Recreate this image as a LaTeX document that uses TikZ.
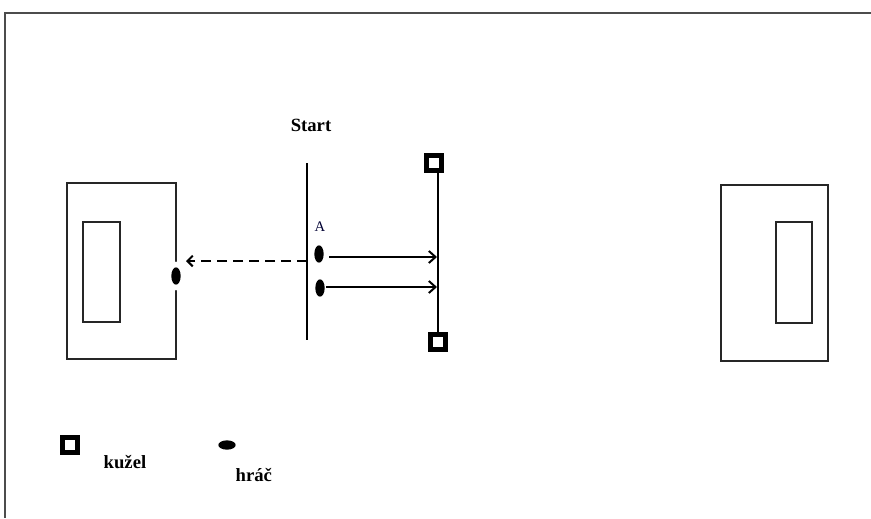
\documentclass[tikz,border=0pt]{standalone}
\usepackage{fontspec}
\setmainfont{Liberation Serif}
\usetikzlibrary{shapes.geometric,arrows.meta}
\begin{document}
\begin{tikzpicture}[x=0.75pt,y=-0.75pt]
        \tikzset{frame/.style = {draw=black!70,line width=0.8pt}}
        \tikzset{goal/.style = {draw=black!85,line width=0.8pt}}
        \tikzset{player/.style = {ellipse,fill=black,inner sep=0,minimum width=7pt,minimum height=13pt}}
        \tikzset{cone/.style = {draw,line width=4pt,fill=white,inner sep=0,minimum size=11pt}}
        \tikzset{pass/.style = {line width=1.5pt,-{Straight Barb[length=5pt,width=9pt]}}}
        \tikzset{label/.style = {font=\bfseries\fontsize{14}{16}\selectfont}}

        \useasboundingbox (0,0) rectangle (871,518);
        \draw[frame] (871,13) -- (5,13) -- (5,518);

        \draw[goal] (67,183) rectangle (176,359);
        \draw[goal] (83,222) rectangle (120,322);
        \draw[goal] (721,185) rectangle (828,361);
        \draw[goal] (776,222) rectangle (812,323);

        \coordinate (st1) at (307,163);
        \coordinate (st2) at (307,340);
        \draw[line width=1pt] (st1) -- (st2);

        \node[label] (start) at (311,125) {Start};
        \node[font=\fontsize{11}{13}\selectfont,text=black!80!blue] (a) at (320,227) {A};

        \node[player] (pA) at (319,254) {};
        \node[player] (pB) at (320,288) {};
        \node[player,preaction={draw=white,line width=8pt}] (pC) at (176,276) {};

        \node[cone] (c1) at (434,163) {};
        \node[cone] (c2) at (438,342) {};
        \draw[line width=2.2pt] (c1.south -| c2.north) -- (c2.north);

        \coordinate (hA) at (437,257);
        \coordinate (hB) at (437,287);
        \coordinate (back) at (186,261);
        \draw[pass,shorten <=4pt] (pA.east |- hA) -- (hA);
        \draw[pass,shorten <=1pt] (pB.east |- hB) -- (hB);
        \draw[pass,dash pattern=on 7.5pt off 4.5pt,-{Straight Barb[length=4pt,width=8pt]}] (back -| st1) -- (back);

        \node[cone] (lc) at (70,445) {};
        \node[label,anchor=west] (kuzel) at (99,462) {kužel};
        \node[player,rotate=90] (lp) at (227,445) {};
        \node[label,anchor=west] (hrac) at (231,475) {hráč};
    \end{tikzpicture}
\end{document}
